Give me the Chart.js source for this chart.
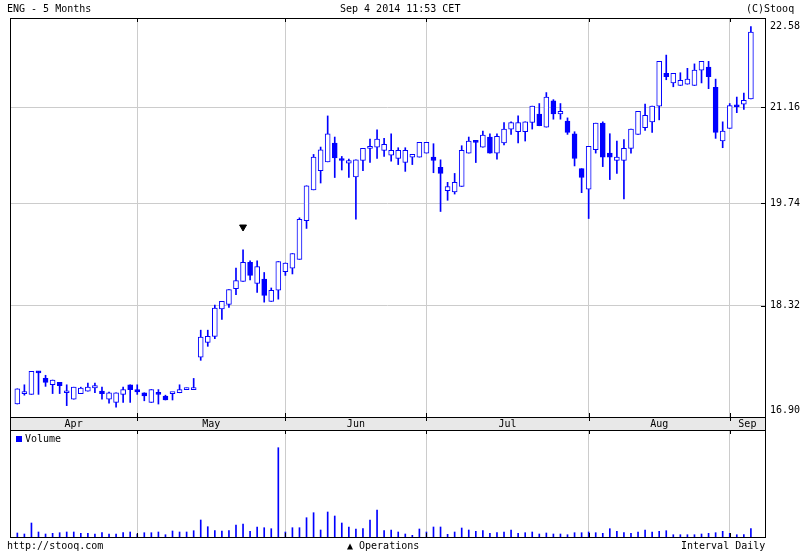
<!DOCTYPE html>
<html>
<head>
<meta charset="utf-8">
<script src="https://cdn.jsdelivr.net/npm/chart.js@4.4.1/dist/chart.umd.min.js"></script>
<style>
body { margin: 0; background: #fff; }
#wrap { position: relative; width: 807px; height: 557px; font: 10px "DejaVu Sans Mono", monospace; color: #000; }
canvas { position: absolute; left: 0; top: 0; }
.t { position: absolute; white-space: pre; line-height: 12px; }
</style>
</head>
<body>
<div id="wrap">
  <canvas id="priceChart" width="807" height="557"></canvas>
  <canvas id="volumeChart" width="807" height="557"></canvas>
  <div class="t" style="left:7px;top:3px">ENG - 5 Months</div>
  <div class="t" style="left:340px;top:3px">Sep 4 2014 11:53 CET</div>
  <div class="t" style="left:746px;top:3px">(C)Stooq</div>
  <div class="t" style="left:7px;top:540px">http://stooq.com</div>
  <div class="t" style="left:347px;top:540px">▲ Operations</div>
  <div class="t" style="left:681px;top:540px">Interval Daily</div>
</div>
<script>
// ENG daily, Apr 4 - Sep 4 2014 (one entry per session)
const open  = [17.06,17.19,17.18,17.46,17.38,17.30,17.33,17.20,17.12,17.19,17.22,17.26,17.22,17.12,17.08,17.18,17.30,
               17.24,17.20,17.08,17.20,17.16,17.19,17.20,17.24,17.24,17.65,17.84,17.92,18.28,18.34,18.55,18.65,18.91,18.62,18.68,18.38,18.53,
               18.78,18.83,18.95,19.49,19.93,20.21,20.34,20.62,20.37,20.32,20.12,20.36,20.54,20.56,20.51,20.44,20.39,20.33,20.41,20.41,
               20.47,20.41,20.26,19.92,19.90,19.98,20.47,20.64,20.56,20.71,20.47,20.62,20.83,20.79,20.79,20.93,21.06,20.86,21.26,21.06,20.95,20.76,20.24,
               19.94,20.52,20.92,20.47,20.36,20.36,20.54,20.75,20.85,20.94,21.18,21.69,21.54,21.50,21.52,21.50,21.74,21.79,21.47,20.65,
               20.84,21.19,21.21,21.29];
const high  = [17.25,17.30,17.47,17.47,17.42,17.36,17.33,17.30,17.27,17.27,17.32,17.32,17.27,17.21,17.20,17.27,17.30,
               17.30,17.20,17.24,17.24,17.17,17.20,17.30,17.26,17.38,18.00,18.00,18.33,18.38,18.54,18.83,19.08,18.93,18.93,18.77,18.56,18.92,
               18.90,19.03,19.53,19.99,20.45,20.56,21.03,20.71,20.42,20.38,20.37,20.54,20.68,20.82,20.69,20.76,20.55,20.55,20.45,20.63,
               20.63,20.61,20.37,20.04,20.17,20.58,20.71,20.66,20.80,20.76,20.76,20.93,20.94,21.03,20.94,21.18,21.22,21.39,21.28,21.22,21.00,20.79,20.24,
               20.57,20.92,20.94,20.76,20.65,20.67,20.83,21.10,21.21,21.18,21.88,21.98,21.69,21.70,21.77,21.84,21.88,21.88,21.60,20.94,
               21.22,21.32,21.38,22.44];
const low   = [17.06,17.17,17.18,17.18,17.28,17.19,17.19,17.04,17.12,17.19,17.22,17.20,17.12,17.07,17.02,17.08,17.08,
               17.18,17.10,17.08,17.06,17.11,17.11,17.20,17.24,17.24,17.61,17.79,17.89,18.14,18.30,18.47,18.65,18.67,18.50,18.37,18.38,18.41,
               18.73,18.75,18.95,19.38,19.93,20.03,20.34,20.11,20.22,20.11,19.51,20.21,20.33,20.39,20.42,20.35,20.30,20.20,20.30,20.41,
               20.47,20.18,19.62,19.78,19.87,19.98,20.47,20.33,20.56,20.47,20.38,20.59,20.75,20.62,20.65,20.83,20.88,20.86,20.98,20.98,20.75,20.28,19.89,
               19.52,20.47,20.27,20.08,20.17,19.80,20.47,20.75,20.81,20.78,20.97,21.59,21.48,21.50,21.52,21.50,21.54,21.45,20.69,20.55,
               20.84,21.08,21.13,21.29];
const close = [17.25,17.21,17.47,17.45,17.33,17.36,17.29,17.22,17.27,17.26,17.27,17.29,17.19,17.20,17.20,17.24,17.24,
               17.21,17.16,17.24,17.18,17.11,17.20,17.24,17.25,17.25,17.91,17.92,18.29,18.38,18.54,18.66,18.91,18.73,18.85,18.46,18.53,18.92,
               18.90,19.03,19.51,19.99,20.41,20.52,20.76,20.40,20.36,20.36,20.37,20.54,20.55,20.68,20.60,20.51,20.51,20.51,20.45,20.63,
               20.63,20.36,20.17,19.98,20.04,20.51,20.65,20.63,20.74,20.47,20.72,20.83,20.93,20.93,20.94,21.18,20.88,21.32,21.06,21.10,20.78,20.39,20.11,
               20.57,20.92,20.41,20.41,20.41,20.54,20.83,21.10,21.04,21.18,21.88,21.64,21.69,21.58,21.60,21.74,21.88,21.64,20.78,20.80,
               21.19,21.17,21.27,22.35];
// volume, thousands of shares
const volume = [4,3,14,5,3,3.7,4.3,5,5,3.7,3.7,3,4.3,3,3,4.3,5,
                3,4.3,4.3,5,2.3,6,5,5,6.3,17,10.3,6.3,6,6.3,12,13,5.7,10,9.3,8.3,89.3,
                5,9.3,9.3,19.3,24.3,7,25,21,14,10,8,8.3,17,27,6.3,7,5,3,1.7,8,
                5,10,10,2.7,5,9,7,5.7,6.3,3.7,4.3,5,7,3.7,4.3,5,3,4,3,3,2.3,4.3,4.3,
                5,4.3,3.7,8.3,5.7,4.3,3.7,5,7,5,5.7,6.3,2.3,2.3,2.3,2.3,3,3.7,4.3,5.7,
                3.7,2.3,2.3,8.3];
const monthNames = ['Apr', 'May', 'Jun', 'Jul', 'Aug', 'Sep'];
const monthStart = [0, 17, 38, 58, 81, 101];
const priceTicks = [16.90, 18.32, 19.74, 21.16, 22.58];
const operations = [{ x: 32, y: 19.40 }];

const BLUE = '#0000ff';
const GRID = '#cccccc';
const FONT = '10px "DejaVu Sans Mono", monospace';
const idx = close.map((_, i) => i);

const xAxis = () => ({
  type: 'linear', min: -1.04, max: 106, offset: false,
  afterBuildTicks: s => { s.ticks = monthStart.slice(1).map(v => ({ value: v })); },
  ticks: { display: false },
  grid: { color: GRID, drawTicks: false, offset: false },
  border: { display: false }
});

function monthTicks(ctx, chart, y0, len) {
  const x = chart.scales.x;
  monthStart.slice(1).forEach(m => {
    const px = Math.round(x.getPixelForValue(m)) + 0.5;
    ctx.beginPath(); ctx.moveTo(px, y0); ctx.lineTo(px, y0 + len); ctx.stroke();
  });
}

const priceDecor = {
  id: 'priceDecor',
  afterDraw(chart) {
    const { ctx, chartArea: a, scales: { x, y } } = chart;
    ctx.save();
    // month band
    ctx.fillStyle = '#e8e8e8';
    ctx.fillRect(a.left, a.bottom, a.right - a.left, 13);
    ctx.strokeStyle = '#000'; ctx.lineWidth = 1;
    ctx.strokeRect(a.left + 0.5, a.top + 0.5, a.right - a.left, a.bottom - a.top);
    ctx.strokeRect(a.left + 0.5, a.bottom + 0.5, a.right - a.left, 13);
    monthTicks(ctx, chart, a.top, 4);
    monthTicks(ctx, chart, a.bottom, -4);
    monthTicks(ctx, chart, a.bottom, 4);
    ctx.fillStyle = '#000'; ctx.font = FONT;
    ctx.textAlign = 'center'; ctx.textBaseline = 'middle';
    const bounds = [a.left, ...monthStart.slice(1).map(m => x.getPixelForValue(m)), a.right];
    monthNames.forEach((n, i) => ctx.fillText(n, (bounds[i] + bounds[i + 1]) / 2, a.bottom + 7));
    // right axis
    ctx.textAlign = 'left';
    priceTicks.forEach((v, i) => {
      let py = y.getPixelForValue(v);
      if (i > 0 && i < priceTicks.length - 1) {
        const ly = Math.round(py) + 0.5;
        ctx.beginPath(); ctx.moveTo(a.right - 4, ly); ctx.lineTo(a.right, ly); ctx.stroke();
      }
      if (i === 0) py -= 7;
      if (i === priceTicks.length - 1) py += 8;
      ctx.fillText(v.toFixed(2), a.right + 5, py);
    });
    ctx.restore();
  }
};

new Chart(document.getElementById('priceChart'), {
  type: 'bar',
  data: {
    datasets: [
      {
        label: 'body', order: 0,
        data: idx.map(i => ({ x: i, y: [Math.min(open[i], close[i]), Math.max(open[i], close[i])] })),
        backgroundColor: idx.map(i => close[i] >= open[i] ? '#fff' : BLUE),
        borderColor: BLUE, borderWidth: 1, borderSkipped: false,
        barThickness: 5, minBarLength: 2, grouped: false
      },
      {
        label: 'wick', order: 1,
        data: idx.map(i => ({ x: i, y: [low[i], high[i]] })),
        backgroundColor: BLUE, borderWidth: 0,
        barThickness: 1, grouped: false
      },
      {
        type: 'scatter', label: 'ops', order: -1,
        data: operations,
        pointStyle: 'triangle', rotation: 180, radius: 4,
        backgroundColor: '#000', borderColor: '#000'
      }
    ]
  },
  options: {
    responsive: false, animation: false,
    layout: { padding: { left: 10, top: 18, right: 42, bottom: 140 } },
    plugins: { legend: { display: false }, tooltip: { enabled: false } },
    scales: {
      x: xAxis(),
      y: {
        type: 'logarithmic', position: 'right', min: 16.90, max: 22.58,
        afterBuildTicks: s => { s.ticks = priceTicks.map(v => ({ value: v })); },
        ticks: { display: false },
        grid: { color: GRID, drawTicks: false },
        border: { display: false }
      }
    }
  },
  plugins: [priceDecor]
});

const volumeDecor = {
  id: 'volumeDecor',
  afterDraw(chart) {
    const { ctx, chartArea: a } = chart;
    ctx.save();
    ctx.strokeStyle = '#000'; ctx.lineWidth = 1;
    ctx.strokeRect(a.left + 0.5, a.top + 0.5, a.right - a.left, a.bottom - a.top);
    monthTicks(ctx, chart, a.top, 4);
    monthTicks(ctx, chart, a.bottom, -4);
    ctx.fillStyle = BLUE;
    ctx.fillRect(a.left + 6, a.top + 6, 6, 6);
    ctx.fillStyle = '#000'; ctx.font = FONT;
    ctx.textBaseline = 'middle'; ctx.textAlign = 'left';
    ctx.fillText('Volume', a.left + 15, a.top + 9);
    ctx.restore();
  }
};

new Chart(document.getElementById('volumeChart'), {
  type: 'bar',
  data: {
    datasets: [{
      label: 'Volume',
      data: idx.map(i => ({ x: i, y: volume[i] })),
      backgroundColor: BLUE, borderWidth: 0, barThickness: 1
    }]
  },
  options: {
    responsive: false, animation: false,
    layout: { padding: { left: 10, top: 430, right: 42, bottom: 20 } },
    plugins: { legend: { display: false }, tooltip: { enabled: false } },
    scales: {
      x: xAxis(),
      y: { display: false, min: 0, max: 107 }
    }
  },
  plugins: [volumeDecor]
});
</script>
</body>
</html>
